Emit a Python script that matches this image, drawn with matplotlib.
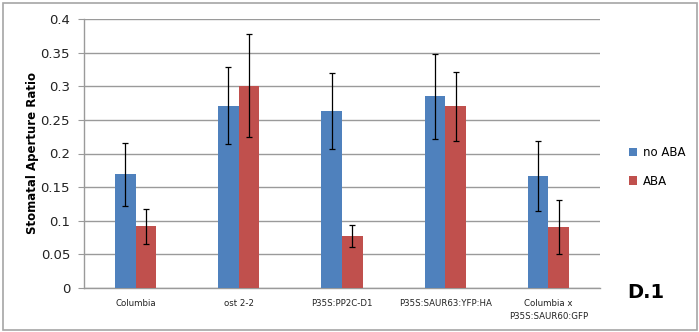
import numpy as np
import matplotlib.pyplot as plt
from matplotlib.patches import Rectangle

categories = ["Columbia", "ost 2-2", "P35S:PP2C-D1", "P35S:SAUR63:YFP:HA",
              "Columbia x\nP35S:SAUR60:GFP"]
no_aba = [0.169, 0.271, 0.263, 0.285, 0.166]
no_aba_err = [0.047, 0.057, 0.057, 0.063, 0.052]
aba = [0.092, 0.301, 0.077, 0.270, 0.091]
aba_err = [0.026, 0.076, 0.016, 0.051, 0.040]
yticks = [0, 0.05, 0.1, 0.15, 0.2, 0.25, 0.3, 0.35, 0.4]
ytick_labels = ["0", "0.05", "0.1", "0.15", "0.2", "0.25", "0.3", "0.35", "0.4"]

blue = "#4F81BD"
red = "#C0504D"
grid_col = "#9A9A9A"

plt.rcParams["font.family"] = ["DejaVu Sans"]

fig = plt.figure(figsize=(6.99, 3.32), dpi=100)
fig.patches.append(Rectangle((3 / 699, 2 / 332), 694 / 699, 327 / 332,
                             transform=fig.transFigure, fill=False,
                             edgecolor="#A6A6A6", linewidth=1.2))

ax = fig.add_axes([84 / 699, 44 / 332, 516 / 699, 269 / 332])
x = np.arange(len(categories))
w = 0.2
err_kw = dict(ecolor="black", elinewidth=0.9, capsize=2.5, capthick=0.9)
ax.bar(x - w / 2, no_aba, w, yerr=no_aba_err, color=blue, label="no ABA",
       error_kw=err_kw, zorder=3)
ax.bar(x + w / 2, aba, w, yerr=aba_err, color=red, label="ABA",
       error_kw=err_kw, zorder=3)

ax.set_xlim(-0.5, len(categories) - 0.5)
ax.set_ylim(0, 0.4)
ax.set_yticks(yticks)
ax.set_yticklabels(ytick_labels, fontsize=9.5, color="#222222")
ax.set_xticks(x)
ax.set_xticklabels(categories, fontsize=6.2, color="#222222", linespacing=1.5)
ax.tick_params(axis="x", length=0, pad=8)
ax.tick_params(axis="y", length=4, color=grid_col, pad=6)
ax.yaxis.grid(True, color=grid_col, linewidth=1.0, zorder=0)
ax.set_axisbelow(True)
for s in ["top", "right"]:
    ax.spines[s].set_visible(False)
for s in ["left", "bottom"]:
    ax.spines[s].set_color(grid_col)
    ax.spines[s].set_linewidth(1.0)

ax.set_ylabel("Stomatal Aperture Ratio", fontsize=8.5, fontweight="bold",
              labelpad=1)

fig.legend(loc="center left", bbox_to_anchor=(618 / 699, 1 - 167 / 332),
           frameon=False, fontsize=8.5, handlelength=0.7, handleheight=0.7,
           handletextpad=0.5, labelspacing=1.3)

fig.text(627 / 699, 1 - 292 / 332, "D.1", fontsize=14, fontweight="bold",
         va="center", ha="left")

fig.savefig("out.png", dpi=100)
